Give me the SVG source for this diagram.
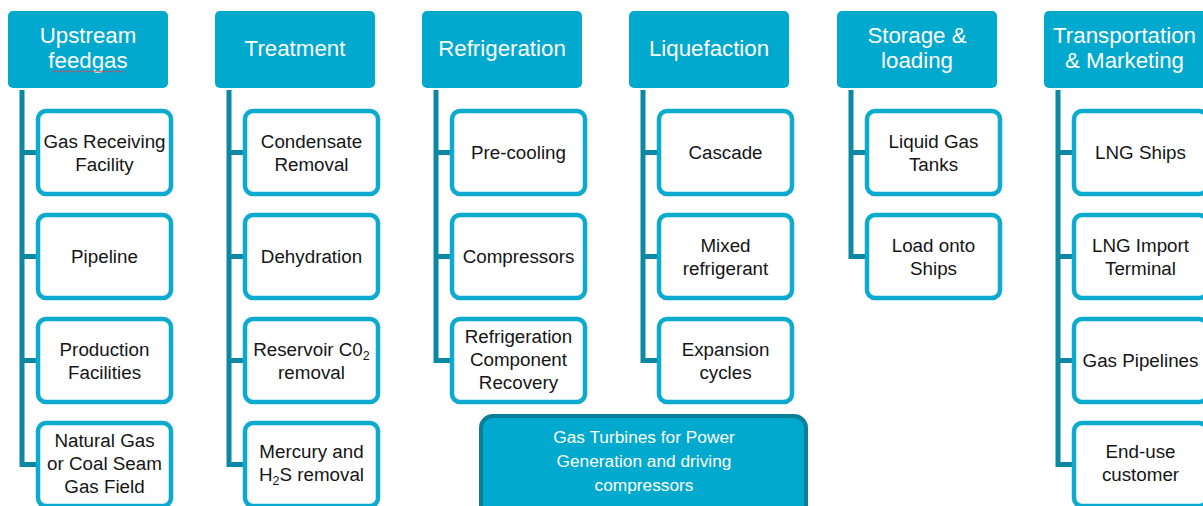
<svg xmlns="http://www.w3.org/2000/svg" width="1203" height="506" viewBox="0 0 1203 506">
  <style>
    .hdr { fill: #01A9CE; }
    .hdr-t { font-family: "Liberation Sans", Arial, sans-serif; font-size: 22.3px; fill: #ffffff; text-anchor: middle; }
    .box { fill: #ffffff; stroke: #0DAACF; stroke-width: 4.5; }
    .box-t { font-family: "Liberation Sans", Arial, sans-serif; font-size: 18.8px; fill: #151515; text-anchor: middle; }
    .sub { font-size: 12.5px; }
    .wire { fill: none; stroke: #0A88A4; stroke-width: 5; stroke-linejoin: miter; }
    .turb { fill: #02A9CE; stroke: #0B7F98; stroke-width: 4; }
    .turb-t { font-family: "Liberation Sans", Arial, sans-serif; font-size: 17.3px; fill: #ffffff; text-anchor: middle; }
  </style>

  <rect width="1203" height="506" fill="#ffffff"/>

  <!-- connectors: vertical spine below each header with branches to the items -->
  <g id="connectors" class="wire">
    <path d="M22 90 V464.5 H38 M22 152.5 H38 M22 256.5 H38 M22 360.5 H38"/>
    <path d="M229 90 V464.5 H245 M229 152.5 H245 M229 256.5 H245 M229 360.5 H245"/>
    <path d="M436 90 V360.5 H452 M436 152.5 H452 M436 256.5 H452"/>
    <path d="M643 90 V360.5 H659 M643 152.5 H659 M643 256.5 H659"/>
    <path d="M851 90 V256.5 H867 M851 152.5 H867"/>
    <path d="M1058 90 V464.5 H1074 M1058 152.5 H1074 M1058 256.5 H1074 M1058 360.5 H1074"/>
  </g>

  <!-- column 1 -->
  <g id="upstream-feedgas">
    <rect class="hdr" x="8" y="11" width="160" height="77" rx="5"/>
    <text class="hdr-t" x="88" y="43">Upstream</text>
    <text class="hdr-t" x="88" y="68">feedgas</text>
    <path d="M52 71.5 Q54 70.5 56 71.5 T60 71.5 T64 71.5 T68 71.5 T72 71.5 T76 71.5 T80 71.5 T84 71.5 T88 71.5 T92 71.5 T96 71.5 T100 71.5 T104 71.5 T108 71.5 T112 71.5 T116 71.5 T120 71.5 T124 71.5" fill="none" stroke="#C9505F" stroke-width="0.9"/>
  </g>
  <g id="gas-receiving-facility">
    <rect class="box" x="38" y="111" width="133" height="83" rx="8"/>
    <text class="box-t" x="104.5" y="148">Gas Receiving</text>
    <text class="box-t" x="104.5" y="170.5">Facility</text>
  </g>
  <g id="pipeline">
    <rect class="box" x="38" y="215" width="133" height="83" rx="8"/>
    <text class="box-t" x="104.5" y="263">Pipeline</text>
  </g>
  <g id="production-facilities">
    <rect class="box" x="38" y="319" width="133" height="83" rx="8"/>
    <text class="box-t" x="104.5" y="356">Production</text>
    <text class="box-t" x="104.5" y="378.5">Facilities</text>
  </g>
  <g id="gas-field">
    <rect class="box" x="38" y="423" width="133" height="83" rx="8"/>
    <text class="box-t" x="104.5" y="447">Natural Gas</text>
    <text class="box-t" x="104.5" y="470">or Coal Seam</text>
    <text class="box-t" x="104.5" y="493">Gas Field</text>
  </g>

  <!-- column 2 -->
  <g id="treatment">
    <rect class="hdr" x="215" y="11" width="160" height="77" rx="5"/>
    <text class="hdr-t" x="295" y="56">Treatment</text>
  </g>
  <g id="condensate-removal">
    <rect class="box" x="245" y="111" width="133" height="83" rx="8"/>
    <text class="box-t" x="311.5" y="148">Condensate</text>
    <text class="box-t" x="311.5" y="170.5">Removal</text>
  </g>
  <g id="dehydration">
    <rect class="box" x="245" y="215" width="133" height="83" rx="8"/>
    <text class="box-t" x="311.5" y="263">Dehydration</text>
  </g>
  <g id="co2-removal">
    <rect class="box" x="245" y="319" width="133" height="83" rx="8"/>
    <text class="box-t" x="311.5" y="356">Reservoir C0<tspan class="sub" dy="4">2</tspan></text>
    <text class="box-t" x="311.5" y="378.5">removal</text>
  </g>
  <g id="mercury-h2s-removal">
    <rect class="box" x="245" y="423" width="133" height="83" rx="8"/>
    <text class="box-t" x="311.5" y="458">Mercury and</text>
    <text class="box-t" x="311.5" y="481">H<tspan class="sub" dy="4">2</tspan><tspan dy="-4">S removal</tspan></text>
  </g>

  <!-- column 3 -->
  <g id="refrigeration">
    <rect class="hdr" x="422" y="11" width="160" height="77" rx="5"/>
    <text class="hdr-t" x="502" y="56">Refrigeration</text>
  </g>
  <g id="pre-cooling">
    <rect class="box" x="452" y="111" width="133" height="83" rx="8"/>
    <text class="box-t" x="518.5" y="159">Pre-cooling</text>
  </g>
  <g id="compressors">
    <rect class="box" x="452" y="215" width="133" height="83" rx="8"/>
    <text class="box-t" x="518.5" y="263">Compressors</text>
  </g>
  <g id="component-recovery">
    <rect class="box" x="452" y="319" width="133" height="83" rx="8"/>
    <text class="box-t" x="518.5" y="343">Refrigeration</text>
    <text class="box-t" x="518.5" y="366">Component</text>
    <text class="box-t" x="518.5" y="389">Recovery</text>
  </g>

  <!-- column 4 -->
  <g id="liquefaction">
    <rect class="hdr" x="629" y="11" width="160" height="77" rx="5"/>
    <text class="hdr-t" x="709" y="56">Liquefaction</text>
  </g>
  <g id="cascade">
    <rect class="box" x="659" y="111" width="133" height="83" rx="8"/>
    <text class="box-t" x="725.5" y="159">Cascade</text>
  </g>
  <g id="mixed-refrigerant">
    <rect class="box" x="659" y="215" width="133" height="83" rx="8"/>
    <text class="box-t" x="725.5" y="252">Mixed</text>
    <text class="box-t" x="725.5" y="274.5">refrigerant</text>
  </g>
  <g id="expansion-cycles">
    <rect class="box" x="659" y="319" width="133" height="83" rx="8"/>
    <text class="box-t" x="725.5" y="356">Expansion</text>
    <text class="box-t" x="725.5" y="378.5">cycles</text>
  </g>

  <!-- column 5 -->
  <g id="storage-loading">
    <rect class="hdr" x="837" y="11" width="160" height="77" rx="5"/>
    <text class="hdr-t" x="917" y="43">Storage &amp;</text>
    <text class="hdr-t" x="917" y="68">loading</text>
  </g>
  <g id="liquid-gas-tanks">
    <rect class="box" x="867" y="111" width="133" height="83" rx="8"/>
    <text class="box-t" x="933.5" y="148">Liquid Gas</text>
    <text class="box-t" x="933.5" y="170.5">Tanks</text>
  </g>
  <g id="load-onto-ships">
    <rect class="box" x="867" y="215" width="133" height="83" rx="8"/>
    <text class="box-t" x="933.5" y="252">Load onto</text>
    <text class="box-t" x="933.5" y="274.5">Ships</text>
  </g>

  <!-- column 6 -->
  <g id="transportation-marketing">
    <rect class="hdr" x="1044" y="11" width="164" height="77" rx="5"/>
    <text class="hdr-t" x="1124.5" y="43">Transportation</text>
    <text class="hdr-t" x="1124.5" y="68">&amp; Marketing</text>
  </g>
  <g id="lng-ships">
    <rect class="box" x="1074" y="111" width="133" height="83" rx="8"/>
    <text class="box-t" x="1140.5" y="159">LNG Ships</text>
  </g>
  <g id="lng-import-terminal">
    <rect class="box" x="1074" y="215" width="133" height="83" rx="8"/>
    <text class="box-t" x="1140.5" y="252">LNG Import</text>
    <text class="box-t" x="1140.5" y="274.5">Terminal</text>
  </g>
  <g id="gas-pipelines">
    <rect class="box" x="1074" y="319" width="133" height="83" rx="8"/>
    <text class="box-t" x="1140.5" y="367">Gas Pipelines</text>
  </g>
  <g id="end-use-customer">
    <rect class="box" x="1074" y="423" width="133" height="83" rx="8"/>
    <text class="box-t" x="1140.5" y="458">End-use</text>
    <text class="box-t" x="1140.5" y="481">customer</text>
  </g>

  <!-- shared utility box -->
  <g id="gas-turbines">
    <rect class="turb" x="481" y="416" width="325" height="110" rx="12"/>
    <text class="turb-t" x="644" y="443">Gas Turbines for Power</text>
    <text class="turb-t" x="644" y="467">Generation and driving</text>
    <text class="turb-t" x="644" y="491">compressors</text>
  </g>
</svg>
